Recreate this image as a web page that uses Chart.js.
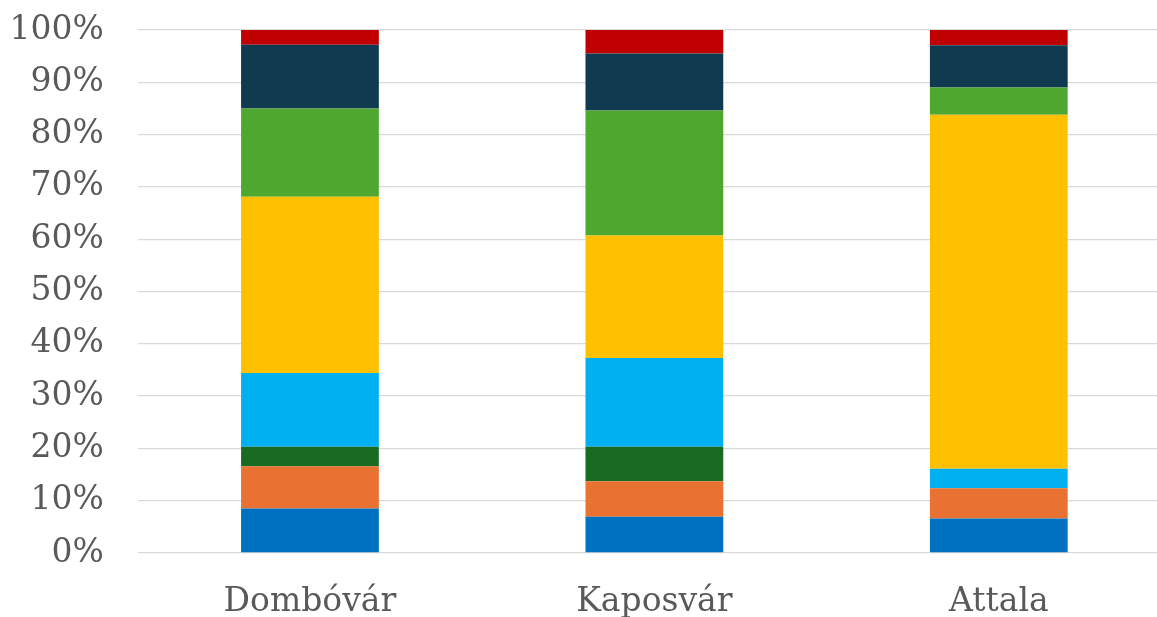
<!DOCTYPE html>
<html>
<head>
<meta charset="utf-8">
<script src="https://cdn.jsdelivr.net/npm/chart.js@4/dist/chart.umd.min.js"></script>
<style>
html, body { margin:0; padding:0; background:#fff; overflow:hidden; }
canvas { display:block; }
</style>
</head>
<body>
<canvas id="stackChart" width="1175" height="617"></canvas>
<script>

/* DATA */

const categories = ["Dombóvár", "Kaposvár", "Attala"];

const series1 = [8.5, 6.95, 6.6];
const series2 = [8.1, 6.75, 5.8];
const series3 = [3.7, 6.6, 0];
const series4 = [14.1, 17.0, 3.7];
const series5 = [33.7, 23.4, 67.7];
const series6 = [16.9, 23.9, 5.2];
const series7 = [12.2, 10.9, 8.1];
const series8 = [2.8, 4.5, 2.9];

const yTicks = [0, 10, 20, 30, 40, 50, 60, 70, 80, 90, 100];


/* CHART */

const colors = ["#0070C0", "#E97132", "#196B24", "#00B0F0", "#FFC000", "#4EA72E", "#0F3A50", "#C00000"];
const allSeries = [series1, series2, series3, series4, series5, series6, series7, series8];

const labelFont = { family: "'DejaVu Serif', 'Liberation Serif', serif", size: 33 };

new Chart(document.getElementById("stackChart"), {

type: "bar",

data: {
labels: categories,
datasets: allSeries.map((s, i) => ({
label: "Sorozat " + (i + 1),
data: s,
backgroundColor: colors[i],
borderWidth: 0,
barPercentage: 0.4,
categoryPercentage: 1
}))
},

options: {
responsive: false,
animation: false,
devicePixelRatio: 1,
layout: { padding: { top: 30, right: 4, left: 0, bottom: 0 } },
plugins: {
legend: { display: false },
tooltip: { enabled: false }
},
scales: {
x: {
stacked: true,
grid: { display: false },
border: { display: false },
ticks: { color: "#595959", font: labelFont, padding: 22, maxRotation: 0 },
afterFit: scale => { scale.height = 64; scale.paddingLeft = 0; scale.paddingRight = 0; }
},
y: {
stacked: true,
min: 0,
max: 100,
afterBuildTicks: scale => { scale.ticks = yTicks.map(v => ({ value: v })); },
grid: { color: "#d9d9d9", lineWidth: 1.3, drawTicks: false },
border: { display: false },
ticks: {
color: "#595959",
font: labelFont,
padding: 34,
callback: v => v + "%"
},
afterFit: scale => { scale.width = 137.75; scale.paddingTop = 0; scale.paddingBottom = 0; }
}
}
}

});

</script>
</body>
</html>
